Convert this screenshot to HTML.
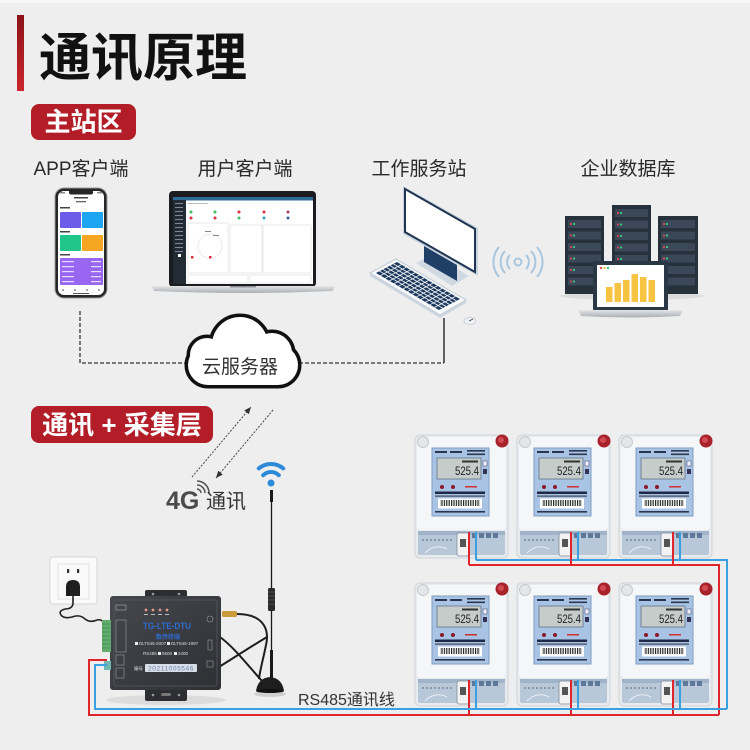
<!DOCTYPE html>
<html><head><meta charset="utf-8">
<style>
html,body{margin:0;padding:0;background:#eeeeee;}
svg{display:block}
text{font-family:"Liberation Sans","Noto Sans CJK SC",sans-serif;}
</style></head><body>
<svg width="750" height="750" viewBox="0 0 750 750" xmlns="http://www.w3.org/2000/svg">
<defs>
 <linearGradient id="rb" x1="0" y1="0" x2="0" y2="1"><stop offset="0" stop-color="#8a1216"/><stop offset="1" stop-color="#cc262c"/></linearGradient>
 <linearGradient id="silver" x1="0" y1="0" x2="0" y2="1"><stop offset="0" stop-color="#e4e6e8"/><stop offset="1" stop-color="#a9adb2"/></linearGradient>
 <linearGradient id="dev" x1="0" y1="0" x2="1" y2="1"><stop offset="0" stop-color="#45484d"/><stop offset="1" stop-color="#2e3034"/></linearGradient>
 <pattern id="bc" width="2.4" height="10" patternUnits="userSpaceOnUse"><rect width="1.2" height="10" fill="#222"/></pattern>
 <marker id="ah" markerWidth="8" markerHeight="8" refX="7" refY="4" orient="auto" markerUnits="userSpaceOnUse"><path d="M0 1 L7 4 L0 7 Z" fill="#333"/></marker>
</defs>
<rect width="750" height="750" fill="#eeeeee"/>
<rect x="0" y="0" width="750" height="3" fill="#f7f7f7"/>

<!-- Title -->
<rect x="17" y="15" width="7" height="76" fill="url(#rb)"/>
<text x="39" y="76" font-size="52" font-weight="700" fill="#111">通讯原理</text>

<!-- badge 1 -->
<rect x="31" y="104" width="105" height="36" rx="8" fill="#b21d27"/>
<text x="83.5" y="131" font-size="26" font-weight="700" fill="#fff" text-anchor="middle">主站区</text>

<!-- labels -->
<g font-size="19" fill="#2a2a2a" text-anchor="middle">
<text x="81" y="175">APP客户端</text>
<text x="245" y="175">用户客户端</text>
<text x="419" y="175">工作服务站</text>
<text x="628" y="175">企业数据库</text>
</g>

<!-- Phone -->
<rect x="55" y="188" width="52" height="110" rx="9" fill="#262626" stroke="#9a9a9a" stroke-width="1"/>
<rect x="58" y="191" width="46" height="104" rx="6" fill="#fff"/>
<rect x="69" y="189.5" width="24" height="5" rx="2" fill="#262626"/>
<rect x="60" y="192" width="5" height="1.5" fill="#888"/><rect x="97" y="192" width="5" height="1.5" fill="#888"/>
<rect x="74" y="197" width="14" height="1.5" fill="#444"/><rect x="76" y="201" width="10" height="1.3" fill="#666"/>
<rect x="60" y="207" width="10" height="1.5" fill="#444"/>
<rect x="60" y="212" width="21" height="16" rx="1" fill="#6c5ce7"/>
<rect x="82" y="212" width="21" height="16" rx="1" fill="#1ea5f2"/>
<rect x="60" y="231" width="10" height="1.5" fill="#444"/>
<rect x="60" y="235" width="21" height="16" rx="1" fill="#20c58a"/>
<rect x="82" y="235" width="21" height="16" rx="1" fill="#f6a623"/>
<rect x="60" y="254" width="10" height="1.5" fill="#444"/>
<rect x="60" y="258" width="43" height="27" rx="1" fill="#9866f0"/>
<g fill="#e8dcff"><rect x="62" y="261" width="12" height="1.2"/><rect x="91" y="261" width="10" height="1.2"/><rect x="62" y="266" width="12" height="1.2"/><rect x="91" y="266" width="10" height="1.2"/><rect x="62" y="271" width="12" height="1.2"/><rect x="91" y="271" width="10" height="1.2"/><rect x="62" y="276" width="12" height="1.2"/><rect x="91" y="276" width="10" height="1.2"/><rect x="62" y="281" width="12" height="1.2"/><rect x="91" y="281" width="10" height="1.2"/></g>
<g fill="#aaa"><rect x="62" y="289" width="2" height="2"/><rect x="74" y="289" width="2" height="2"/><rect x="86" y="289" width="2" height="2"/><rect x="98" y="289" width="2" height="2"/></g>
<rect x="73" y="293" width="16" height="1" fill="#555"/>

<!-- Laptop -->
<rect x="169" y="191" width="147" height="96" rx="4" fill="#1a1c1f"/>
<rect x="173" y="197" width="140" height="87" fill="#fff"/>
<rect x="173" y="197" width="140" height="3.5" fill="#2e6a98"/>
<rect x="173" y="200" width="13" height="84" fill="#232b34"/>
<g fill="#7d8996"><rect x="175" y="203" width="8" height="1"/><rect x="175" y="207" width="8" height="1"/><rect x="175" y="211" width="8" height="1"/><rect x="175" y="215" width="8" height="1"/><rect x="175" y="219" width="8" height="1"/><rect x="175" y="223" width="8" height="1"/><rect x="175" y="227" width="8" height="1"/><rect x="175" y="231" width="8" height="1"/><rect x="175" y="235" width="8" height="1"/><rect x="175" y="239" width="8" height="1"/><rect x="175" y="243" width="8" height="1"/><rect x="175" y="247" width="8" height="1"/><rect x="175" y="251" width="8" height="1"/></g>
<rect x="178" y="254" width="3" height="3" fill="#fff"/>
<rect x="188" y="203" width="20" height="1" fill="#bbb"/>
<g>
<circle cx="191" cy="212" r="1.5" fill="#3cc060"/><circle cx="215" cy="212" r="1.5" fill="#3cc060"/><circle cx="239" cy="212" r="1.5" fill="#d83040"/><circle cx="264" cy="212" r="1.5" fill="#d83040"/><circle cx="288" cy="212" r="1.5" fill="#a04070"/>
<circle cx="191" cy="218" r="1.5" fill="#d83040"/><circle cx="215" cy="218" r="1.5" fill="#d83040"/><circle cx="239" cy="218" r="1.5" fill="#3cc060"/><circle cx="264" cy="218" r="1.5" fill="#30a0c0"/><circle cx="288" cy="218" r="1.5" fill="#3060a0"/>
</g>
<g fill="none" stroke="#e2e2e2" stroke-width="0.7">
<rect x="188" y="223" width="40" height="50"/><rect x="230" y="225" width="32" height="48"/><rect x="263" y="225" width="48" height="48"/>
<rect x="188" y="275" width="60" height="8"/><rect x="250" y="275" width="61" height="8"/>
<circle cx="210" cy="246" r="12"/>
</g>
<rect x="191" y="256" width="2.5" height="2.5" fill="#d83040"/><rect x="209" y="256" width="2.5" height="2.5" fill="#d83040"/>
<rect x="205" y="231" width="6" height="1" fill="#888"/><rect x="213" y="235" width="6" height="1" fill="#888"/>
<path d="M152 286 H335 L333 291 Q243 295 154 291 Z" fill="url(#silver)"/>
<rect x="230" y="286" width="26" height="1.5" fill="#8d9196"/>

<!-- Computer -->
<polygon points="416,263 433,254 469,276 452,286" fill="#d0d9e2"/>
<polygon points="424,246 457,265 457,281 424,262" fill="#1f3f66"/>
<polygon points="403,186 478,228 478,276 403,234" fill="#c8d3de"/>
<polygon points="405,189 475,229 475,272 405,232" fill="#fff" stroke="#1f3552" stroke-width="2"/>
<polygon points="370,273 440,315 466,300 466,303 440,318 370,276" fill="#cdd6df"/>
<polygon points="370,273 396,259 466,300 440,315" fill="#f7f9fb" stroke="#c5d0da" stroke-width="1.2"/>
<polygon points="376,273 397,262 460,299 439,310" fill="#1d3a5e"/>
<g stroke="#f7f9fb" stroke-width="0.8">
<line x1="379.6" y1="271.1" x2="442.6" y2="308.1"/><line x1="382.9" y1="269.4" x2="445.9" y2="306.4"/><line x1="386.5" y1="267.5" x2="449.5" y2="304.5"/><line x1="390.1" y1="265.6" x2="453.1" y2="302.6"/><line x1="393.4" y1="263.9" x2="456.4" y2="300.9"/>
<line x1="380.5" y1="275.6" x2="401.5" y2="264.6"/><line x1="385" y1="278.3" x2="406" y2="267.3"/><line x1="389.5" y1="280.9" x2="410.5" y2="269.9"/><line x1="394" y1="283.6" x2="415" y2="272.6"/><line x1="398.5" y1="286.2" x2="419.5" y2="275.2"/><line x1="403" y1="288.9" x2="424" y2="277.9"/><line x1="407.5" y1="291.5" x2="428.5" y2="280.5"/><line x1="412" y1="294.1" x2="433" y2="283.1"/><line x1="416.5" y1="296.8" x2="437.5" y2="285.8"/><line x1="421" y1="299.4" x2="442" y2="288.4"/><line x1="425.5" y1="302.1" x2="446.5" y2="291.1"/><line x1="430" y1="304.7" x2="451" y2="293.7"/><line x1="434.5" y1="307.4" x2="455.5" y2="296.4"/>
</g>
<ellipse cx="470" cy="321" rx="6" ry="3.5" fill="#eef1f4" stroke="#c5cdd5" stroke-width="0.8"/>
<line x1="469" y1="321" x2="473" y2="319" stroke="#445" stroke-width="0.8"/>

<!-- wifi waves -->
<g fill="none" stroke="#a9c6df" stroke-width="2">
<circle cx="518" cy="262" r="3.5"/>
<path d="M510 255 A10 10 0 0 0 510 269"/><path d="M526 255 A10 10 0 0 1 526 269"/>
<path d="M505 251 A16 16 0 0 0 505 273"/><path d="M531 251 A16 16 0 0 1 531 273"/>
<path d="M499 247 A23 23 0 0 0 499 277"/><path d="M537 247 A23 23 0 0 1 537 277"/>
</g>

<!-- Servers -->
<ellipse cx="632" cy="296" rx="72" ry="4" fill="#dcdcdc"/>
<g>
<rect x="565" y="216" width="39" height="78" fill="#26313b"/>
<rect x="612" y="205" width="39" height="89" fill="#26313b"/>
<rect x="658" y="216" width="40" height="78" fill="#26313b"/>
<g fill="#3a4857">
<rect x="568" y="220" width="33" height="8"/><rect x="568" y="231.5" width="33" height="8"/><rect x="568" y="243" width="33" height="8"/><rect x="568" y="254.5" width="33" height="8"/><rect x="568" y="266" width="33" height="8"/><rect x="568" y="277.5" width="33" height="8"/>
<rect x="615" y="209" width="33" height="8"/><rect x="615" y="220.5" width="33" height="8"/><rect x="615" y="232" width="33" height="8"/><rect x="615" y="243.5" width="33" height="8"/><rect x="615" y="255" width="33" height="8"/>
<rect x="661" y="220" width="34" height="8"/><rect x="661" y="231.5" width="34" height="8"/><rect x="661" y="243" width="34" height="8"/><rect x="661" y="254.5" width="34" height="8"/><rect x="661" y="266" width="34" height="8"/><rect x="661" y="277.5" width="34" height="8"/>
</g>
<g fill="#e04858">
<circle cx="571" cy="224" r="1.1"/><circle cx="571" cy="235.5" r="1.1"/><circle cx="571" cy="247" r="1.1"/><circle cx="571" cy="258.5" r="1.1"/><circle cx="571" cy="270" r="1.1"/><circle cx="571" cy="281.5" r="1.1"/>
<circle cx="618" cy="213" r="1.1"/><circle cx="618" cy="224.5" r="1.1"/><circle cx="618" cy="236" r="1.1"/><circle cx="618" cy="247.5" r="1.1"/><circle cx="618" cy="259" r="1.1"/>
<circle cx="664" cy="224" r="1.1"/><circle cx="664" cy="235.5" r="1.1"/><circle cx="664" cy="247" r="1.1"/><circle cx="664" cy="258.5" r="1.1"/><circle cx="664" cy="270" r="1.1"/><circle cx="664" cy="281.5" r="1.1"/>
</g>
<g fill="#38d080">
<circle cx="574" cy="224" r="1.1"/><circle cx="574" cy="235.5" r="1.1"/><circle cx="574" cy="247" r="1.1"/><circle cx="574" cy="258.5" r="1.1"/><circle cx="574" cy="270" r="1.1"/><circle cx="574" cy="281.5" r="1.1"/>
<circle cx="621" cy="213" r="1.1"/><circle cx="621" cy="224.5" r="1.1"/><circle cx="621" cy="236" r="1.1"/><circle cx="621" cy="247.5" r="1.1"/><circle cx="621" cy="259" r="1.1"/>
<circle cx="667" cy="224" r="1.1"/><circle cx="667" cy="235.5" r="1.1"/><circle cx="667" cy="247" r="1.1"/><circle cx="667" cy="258.5" r="1.1"/><circle cx="667" cy="270" r="1.1"/><circle cx="667" cy="281.5" r="1.1"/>
</g>
</g>
<rect x="593" y="261" width="75" height="50" rx="2" fill="#2a3744"/>
<rect x="597" y="265" width="67" height="42" fill="#fff"/>
<circle cx="601" cy="268" r="1.2" fill="#e04858"/><circle cx="604.5" cy="268" r="1.2" fill="#f0c040"/><circle cx="608" cy="268" r="1.2" fill="#38d080"/>
<g fill="#f6c343">
<rect x="606" y="287" width="6.5" height="15"/><rect x="614.5" y="283" width="6.5" height="19"/><rect x="623" y="280" width="6.5" height="22"/><rect x="631.5" y="274" width="6.5" height="28"/><rect x="640" y="277" width="6.5" height="25"/><rect x="648.5" y="280" width="6.5" height="22"/>
</g>
<path d="M578 310 H683 L680 316 Q630 319 581 316 Z" fill="url(#silver)"/>

<!-- connectors to cloud -->
<path d="M80 311 V363 H187" stroke="#333" stroke-width="1.3" stroke-dasharray="4 2" fill="none"/>
<path d="M299 363 H444" stroke="#333" stroke-width="1.3" stroke-dasharray="4 2" fill="none"/>
<line x1="444" y1="318" x2="444" y2="363" stroke="#333" stroke-width="1.5"/>

<!-- Cloud -->
<g fill="#111">
<rect x="188" y="345" width="110" height="40" rx="20" stroke="#111" stroke-width="7"/>
<circle cx="240" cy="345" r="28" stroke="#111" stroke-width="7"/>
<circle cx="207" cy="355" r="17" stroke="#111" stroke-width="7"/>
<circle cx="272" cy="353" r="20" stroke="#111" stroke-width="7"/>
</g>
<g fill="#fff">
<rect x="188" y="345" width="110" height="40" rx="20"/>
<circle cx="240" cy="345" r="28"/>
<circle cx="207" cy="355" r="17"/>
<circle cx="272" cy="353" r="20"/>
</g>
<text x="240" y="373" font-size="19" fill="#333" text-anchor="middle">云服务器</text>

<!-- badge 2 -->
<rect x="31" y="406" width="182" height="37" rx="8" fill="#b21d27"/>
<text x="122" y="434" font-size="26" font-weight="700" fill="#fff" text-anchor="middle">通讯 + 采集层</text>

<!-- arrows -->
<line x1="192" y1="477" x2="251" y2="407" stroke="#444" stroke-width="1" stroke-dasharray="2 1.5" marker-end="url(#ah)"/>
<line x1="273" y1="410" x2="216" y2="478" stroke="#444" stroke-width="1" stroke-dasharray="2 1.5" marker-end="url(#ah)"/>

<!-- 4G -->
<text x="166" y="509" font-size="25" font-weight="700" fill="#4a4a4a">4G</text>
<g fill="none" stroke="#555" stroke-width="1.6">
<path d="M197 489 A4 4 0 0 1 201 493"/><path d="M197 485 A8 8 0 0 1 205 493"/><path d="M197 481 A12 12 0 0 1 209 493"/>
</g>
<text x="206" y="508" font-size="20" fill="#333">通讯</text>

<!-- wifi icon -->
<g fill="none" stroke="#2d8ad8" stroke-width="4" stroke-linecap="round">
<path d="M258.8 468.4 A19 19 0 0 1 283.2 468.4"/>
<path d="M263.2 475.2 A11 11 0 0 1 278.8 475.2"/>
</g>
<circle cx="271" cy="483" r="3.5" fill="#2d8ad8"/>

<!-- antenna -->
<line x1="271.5" y1="490" x2="271.5" y2="680" stroke="#1a1a1a" stroke-width="1.3"/>
<rect x="270" y="490" width="3" height="12" fill="#1a1a1a"/>
<rect x="268" y="588" width="7" height="23" rx="1.5" fill="#2a2a2a"/>
<g stroke="#666" stroke-width="0.6"><line x1="268" y1="592" x2="275" y2="592"/><line x1="268" y1="596" x2="275" y2="596"/><line x1="268" y1="600" x2="275" y2="600"/><line x1="268" y1="604" x2="275" y2="604"/></g>
<rect x="270" y="650" width="3" height="30" fill="#1a1a1a"/>
<ellipse cx="270" cy="694" rx="16" ry="3" fill="#cfcfcf"/>
<path d="M256 691 Q258 678 270 677 Q282 678 284 691 Z" fill="#1e1e1e"/>
<ellipse cx="270" cy="691" rx="14" ry="2" fill="#111"/>

<!-- antenna cables -->
<g fill="none" stroke="#1e1e1e" stroke-width="2">
<path d="M237 614 C262 614 270 628 266 645 C263 660 260 670 259 679"/>
<path d="M220 637 C235 648 250 668 262 681"/>
<path d="M219 667 C235 657 252 646 267 637"/>
</g>

<!-- outlet -->
<rect x="50" y="557" width="47" height="47" rx="3" fill="#fafafa" stroke="#d6d6d6"/>
<rect x="58" y="564" width="31" height="35" fill="none" stroke="#e2e2e2"/>
<rect x="67" y="569" width="2.2" height="4" fill="#333"/><rect x="77" y="569" width="2.2" height="4" fill="#333"/>
<path d="M66 596 V587 Q66 580 73 580 Q80 580 80 587 V596 Z" fill="#1e1e1e"/>
<path d="M73 596 V604 Q72 609 65 609 Q58 611 61 615 Q64 619 72 617 Q80 614 85 619 Q90 623 97 620 Q101 619 103 622" stroke="#222" stroke-width="1.6" fill="none"/>

<!-- gateway device -->
<ellipse cx="166" cy="700" rx="60" ry="5" fill="#dcdcdc"/>
<rect x="145" y="590" width="42" height="10" rx="2" fill="#2c2e31"/>
<circle cx="153" cy="594" r="1.3" fill="#999"/><circle cx="179" cy="594" r="1.3" fill="#999"/>
<rect x="145" y="685" width="42" height="16" rx="2" fill="#2c2e31"/>
<circle cx="153" cy="695" r="1.3" fill="#999"/><circle cx="179" cy="695" r="1.3" fill="#999"/><rect x="161" y="693" width="10" height="3" rx="1.5" fill="#777"/>
<rect x="110" y="596" width="111" height="94" rx="3" fill="url(#dev)"/>
<rect x="114" y="600" width="103" height="86" rx="2" fill="none" stroke="#55585d" stroke-width="0.8"/>
<rect x="116" y="605" width="10" height="5" fill="none" stroke="#aaa" stroke-width="0.6"/>
<g fill="#e89a88"><circle cx="146" cy="610" r="1.4"/><circle cx="153" cy="610" r="1.4"/><circle cx="160" cy="610" r="1.4"/><circle cx="167" cy="610" r="1.4"/></g>
<g fill="#bbb"><rect x="144" y="614" width="4" height="1"/><rect x="151" y="614" width="4" height="1"/><rect x="158" y="614" width="4" height="1"/><rect x="165" y="614" width="4" height="1"/></g>
<text x="167" y="629" font-size="9" font-weight="700" fill="#2f6bd0" text-anchor="middle" textLength="48" lengthAdjust="spacingAndGlyphs">TG-LTE-DTU</text>
<text x="168" y="639" font-size="6" font-weight="700" fill="#2f6bd0" text-anchor="middle">数传终端</text>
<g font-size="4.5" fill="#ddd">
<rect x="135" y="642" width="3" height="3" fill="#eee"/><text x="139" y="645">DLT645-2007</text>
<rect x="167" y="642" width="3" height="3" fill="#eee"/><text x="171" y="645">DLT645-1997</text>
<text x="143" y="655">RS485</text><rect x="158" y="652" width="3" height="3" fill="#eee"/><text x="162" y="655">9600</text><rect x="174" y="652" width="3" height="3" fill="#eee"/><text x="178" y="655">2400</text>
<text x="134" y="670">编号</text>
</g>
<rect x="145" y="664" width="52" height="8" rx="1" fill="#d8dee8"/>
<text x="171" y="670.5" font-size="6.5" fill="#6c86ad" text-anchor="middle" letter-spacing="0.6">20211005546</text>
<g fill="none" stroke="#999" stroke-width="0.6">
<rect x="116" y="620" width="10" height="32"/><rect x="116" y="655" width="8" height="10"/><rect x="116" y="668" width="8" height="10"/>
<circle cx="210" cy="619" r="3"/><rect x="208" y="640" width="4" height="10"/><rect x="207" y="661" width="6" height="6"/>
</g>
<rect x="222" y="611" width="15" height="6" rx="1.5" fill="#c89a3a"/>
<rect x="102" y="620" width="9" height="32" fill="#5fae6e"/>
<g stroke="#3f7d4c" stroke-width="0.6"><line x1="102" y1="624" x2="111" y2="624"/><line x1="102" y1="628" x2="111" y2="628"/><line x1="102" y1="632" x2="111" y2="632"/><line x1="102" y1="636" x2="111" y2="636"/><line x1="102" y1="640" x2="111" y2="640"/><line x1="102" y1="644" x2="111" y2="644"/><line x1="102" y1="648" x2="111" y2="648"/></g>
<rect x="104" y="661" width="7" height="9" fill="#6fb8b0"/>

<!-- meters -->
<g transform="translate(415,435)">
<rect x="0" y="0" width="93" height="123" rx="5" fill="#e8ebee" stroke="#cfd4d9"/>
<rect x="2" y="2" width="89" height="93" rx="4" fill="#f5f6f7"/>
<circle cx="8" cy="7" r="5.5" fill="#e4e6e8" stroke="#c5c9cd"/>
<circle cx="87" cy="6" r="6.5" fill="#a8222b"/><circle cx="86" cy="5" r="3" fill="#d24a52"/>
<rect x="17" y="13" width="57" height="68" fill="#a8c3e3" stroke="#809fc6"/>
<g fill="#2a3550"><rect x="20" y="16" width="12" height="2"/><rect x="35" y="16" width="12" height="2"/><rect x="52" y="15" width="18" height="1.6"/><rect x="52" y="18.5" width="18" height="1.6"/></g>
<rect x="22" y="23" width="44" height="21" fill="#c5ccca" stroke="#63748a" stroke-width="0.8"/>
<rect x="47" y="25.5" width="16" height="2" fill="#333"/>
<text x="64" y="40" font-size="12" fill="#222" text-anchor="end" textLength="24" lengthAdjust="spacingAndGlyphs">525.4</text>
<rect x="68" y="26" width="4" height="5" fill="#eef" stroke="#557" stroke-width="0.6"/><rect x="68" y="34" width="4" height="5" fill="#335"/>
<circle cx="27" cy="52" r="2" fill="#8a1a2a"/><circle cx="38" cy="52" r="2" fill="#8a1a2a"/>
<rect x="50" y="51" width="12" height="1.5" fill="#d03030"/>
<rect x="20" y="56.5" width="50" height="2.5" fill="#1e2a48"/>
<rect x="20" y="60.5" width="50" height="1.2" fill="#445"/>
<rect x="23" y="63.5" width="44" height="10" fill="#fff"/>
<rect x="25" y="65" width="40" height="6" fill="url(#bc)"/>
<rect x="20" y="76" width="50" height="1.6" fill="#2a3550"/>
<rect x="3" y="96" width="87" height="24" rx="2" fill="#b9c8d8"/>
<rect x="3" y="96" width="87" height="4" fill="#a0b3c8"/>
<g fill="#8797aa"><rect x="7" y="104" width="2" height="2"/><rect x="11" y="104" width="2" height="2"/><rect x="15" y="104" width="2" height="2"/><rect x="19" y="104" width="2" height="2"/><rect x="23" y="104" width="2" height="2"/><rect x="27" y="104" width="2" height="2"/><rect x="31" y="104" width="2" height="2"/><rect x="35" y="104" width="2" height="2"/></g>
<path d="M10 118 Q20 108 32 114" stroke="#e8eef5" stroke-width="1" fill="none"/>
<rect x="42" y="98" width="12" height="23" rx="2" fill="#f2f2f2" stroke="#7d8c9c" stroke-width="0.8"/>
<rect x="45" y="104" width="6" height="8" fill="#555"/>
<g fill="#5d7898"><rect x="57" y="98" width="5" height="5"/><rect x="64" y="98" width="5" height="5"/><rect x="71" y="98" width="5" height="5"/><rect x="78" y="98" width="5" height="5"/></g>
</g>
<g transform="translate(517,435)">
<rect x="0" y="0" width="93" height="123" rx="5" fill="#e8ebee" stroke="#cfd4d9"/>
<rect x="2" y="2" width="89" height="93" rx="4" fill="#f5f6f7"/>
<circle cx="8" cy="7" r="5.5" fill="#e4e6e8" stroke="#c5c9cd"/>
<circle cx="87" cy="6" r="6.5" fill="#a8222b"/><circle cx="86" cy="5" r="3" fill="#d24a52"/>
<rect x="17" y="13" width="57" height="68" fill="#a8c3e3" stroke="#809fc6"/>
<g fill="#2a3550"><rect x="20" y="16" width="12" height="2"/><rect x="35" y="16" width="12" height="2"/><rect x="52" y="15" width="18" height="1.6"/><rect x="52" y="18.5" width="18" height="1.6"/></g>
<rect x="22" y="23" width="44" height="21" fill="#c5ccca" stroke="#63748a" stroke-width="0.8"/>
<rect x="47" y="25.5" width="16" height="2" fill="#333"/>
<text x="64" y="40" font-size="12" fill="#222" text-anchor="end" textLength="24" lengthAdjust="spacingAndGlyphs">525.4</text>
<rect x="68" y="26" width="4" height="5" fill="#eef" stroke="#557" stroke-width="0.6"/><rect x="68" y="34" width="4" height="5" fill="#335"/>
<circle cx="27" cy="52" r="2" fill="#8a1a2a"/><circle cx="38" cy="52" r="2" fill="#8a1a2a"/>
<rect x="50" y="51" width="12" height="1.5" fill="#d03030"/>
<rect x="20" y="56.5" width="50" height="2.5" fill="#1e2a48"/>
<rect x="20" y="60.5" width="50" height="1.2" fill="#445"/>
<rect x="23" y="63.5" width="44" height="10" fill="#fff"/>
<rect x="25" y="65" width="40" height="6" fill="url(#bc)"/>
<rect x="20" y="76" width="50" height="1.6" fill="#2a3550"/>
<rect x="3" y="96" width="87" height="24" rx="2" fill="#b9c8d8"/>
<rect x="3" y="96" width="87" height="4" fill="#a0b3c8"/>
<g fill="#8797aa"><rect x="7" y="104" width="2" height="2"/><rect x="11" y="104" width="2" height="2"/><rect x="15" y="104" width="2" height="2"/><rect x="19" y="104" width="2" height="2"/><rect x="23" y="104" width="2" height="2"/><rect x="27" y="104" width="2" height="2"/><rect x="31" y="104" width="2" height="2"/><rect x="35" y="104" width="2" height="2"/></g>
<path d="M10 118 Q20 108 32 114" stroke="#e8eef5" stroke-width="1" fill="none"/>
<rect x="42" y="98" width="12" height="23" rx="2" fill="#f2f2f2" stroke="#7d8c9c" stroke-width="0.8"/>
<rect x="45" y="104" width="6" height="8" fill="#555"/>
<g fill="#5d7898"><rect x="57" y="98" width="5" height="5"/><rect x="64" y="98" width="5" height="5"/><rect x="71" y="98" width="5" height="5"/><rect x="78" y="98" width="5" height="5"/></g>
</g>
<g transform="translate(619,435)">
<rect x="0" y="0" width="93" height="123" rx="5" fill="#e8ebee" stroke="#cfd4d9"/>
<rect x="2" y="2" width="89" height="93" rx="4" fill="#f5f6f7"/>
<circle cx="8" cy="7" r="5.5" fill="#e4e6e8" stroke="#c5c9cd"/>
<circle cx="87" cy="6" r="6.5" fill="#a8222b"/><circle cx="86" cy="5" r="3" fill="#d24a52"/>
<rect x="17" y="13" width="57" height="68" fill="#a8c3e3" stroke="#809fc6"/>
<g fill="#2a3550"><rect x="20" y="16" width="12" height="2"/><rect x="35" y="16" width="12" height="2"/><rect x="52" y="15" width="18" height="1.6"/><rect x="52" y="18.5" width="18" height="1.6"/></g>
<rect x="22" y="23" width="44" height="21" fill="#c5ccca" stroke="#63748a" stroke-width="0.8"/>
<rect x="47" y="25.5" width="16" height="2" fill="#333"/>
<text x="64" y="40" font-size="12" fill="#222" text-anchor="end" textLength="24" lengthAdjust="spacingAndGlyphs">525.4</text>
<rect x="68" y="26" width="4" height="5" fill="#eef" stroke="#557" stroke-width="0.6"/><rect x="68" y="34" width="4" height="5" fill="#335"/>
<circle cx="27" cy="52" r="2" fill="#8a1a2a"/><circle cx="38" cy="52" r="2" fill="#8a1a2a"/>
<rect x="50" y="51" width="12" height="1.5" fill="#d03030"/>
<rect x="20" y="56.5" width="50" height="2.5" fill="#1e2a48"/>
<rect x="20" y="60.5" width="50" height="1.2" fill="#445"/>
<rect x="23" y="63.5" width="44" height="10" fill="#fff"/>
<rect x="25" y="65" width="40" height="6" fill="url(#bc)"/>
<rect x="20" y="76" width="50" height="1.6" fill="#2a3550"/>
<rect x="3" y="96" width="87" height="24" rx="2" fill="#b9c8d8"/>
<rect x="3" y="96" width="87" height="4" fill="#a0b3c8"/>
<g fill="#8797aa"><rect x="7" y="104" width="2" height="2"/><rect x="11" y="104" width="2" height="2"/><rect x="15" y="104" width="2" height="2"/><rect x="19" y="104" width="2" height="2"/><rect x="23" y="104" width="2" height="2"/><rect x="27" y="104" width="2" height="2"/><rect x="31" y="104" width="2" height="2"/><rect x="35" y="104" width="2" height="2"/></g>
<path d="M10 118 Q20 108 32 114" stroke="#e8eef5" stroke-width="1" fill="none"/>
<rect x="42" y="98" width="12" height="23" rx="2" fill="#f2f2f2" stroke="#7d8c9c" stroke-width="0.8"/>
<rect x="45" y="104" width="6" height="8" fill="#555"/>
<g fill="#5d7898"><rect x="57" y="98" width="5" height="5"/><rect x="64" y="98" width="5" height="5"/><rect x="71" y="98" width="5" height="5"/><rect x="78" y="98" width="5" height="5"/></g>
</g>
<g transform="translate(415,583)">
<rect x="0" y="0" width="93" height="123" rx="5" fill="#e8ebee" stroke="#cfd4d9"/>
<rect x="2" y="2" width="89" height="93" rx="4" fill="#f5f6f7"/>
<circle cx="8" cy="7" r="5.5" fill="#e4e6e8" stroke="#c5c9cd"/>
<circle cx="87" cy="6" r="6.5" fill="#a8222b"/><circle cx="86" cy="5" r="3" fill="#d24a52"/>
<rect x="17" y="13" width="57" height="68" fill="#a8c3e3" stroke="#809fc6"/>
<g fill="#2a3550"><rect x="20" y="16" width="12" height="2"/><rect x="35" y="16" width="12" height="2"/><rect x="52" y="15" width="18" height="1.6"/><rect x="52" y="18.5" width="18" height="1.6"/></g>
<rect x="22" y="23" width="44" height="21" fill="#c5ccca" stroke="#63748a" stroke-width="0.8"/>
<rect x="47" y="25.5" width="16" height="2" fill="#333"/>
<text x="64" y="40" font-size="12" fill="#222" text-anchor="end" textLength="24" lengthAdjust="spacingAndGlyphs">525.4</text>
<rect x="68" y="26" width="4" height="5" fill="#eef" stroke="#557" stroke-width="0.6"/><rect x="68" y="34" width="4" height="5" fill="#335"/>
<circle cx="27" cy="52" r="2" fill="#8a1a2a"/><circle cx="38" cy="52" r="2" fill="#8a1a2a"/>
<rect x="50" y="51" width="12" height="1.5" fill="#d03030"/>
<rect x="20" y="56.5" width="50" height="2.5" fill="#1e2a48"/>
<rect x="20" y="60.5" width="50" height="1.2" fill="#445"/>
<rect x="23" y="63.5" width="44" height="10" fill="#fff"/>
<rect x="25" y="65" width="40" height="6" fill="url(#bc)"/>
<rect x="20" y="76" width="50" height="1.6" fill="#2a3550"/>
<rect x="3" y="96" width="87" height="24" rx="2" fill="#b9c8d8"/>
<rect x="3" y="96" width="87" height="4" fill="#a0b3c8"/>
<g fill="#8797aa"><rect x="7" y="104" width="2" height="2"/><rect x="11" y="104" width="2" height="2"/><rect x="15" y="104" width="2" height="2"/><rect x="19" y="104" width="2" height="2"/><rect x="23" y="104" width="2" height="2"/><rect x="27" y="104" width="2" height="2"/><rect x="31" y="104" width="2" height="2"/><rect x="35" y="104" width="2" height="2"/></g>
<path d="M10 118 Q20 108 32 114" stroke="#e8eef5" stroke-width="1" fill="none"/>
<rect x="42" y="98" width="12" height="23" rx="2" fill="#f2f2f2" stroke="#7d8c9c" stroke-width="0.8"/>
<rect x="45" y="104" width="6" height="8" fill="#555"/>
<g fill="#5d7898"><rect x="57" y="98" width="5" height="5"/><rect x="64" y="98" width="5" height="5"/><rect x="71" y="98" width="5" height="5"/><rect x="78" y="98" width="5" height="5"/></g>
</g>
<g transform="translate(517,583)">
<rect x="0" y="0" width="93" height="123" rx="5" fill="#e8ebee" stroke="#cfd4d9"/>
<rect x="2" y="2" width="89" height="93" rx="4" fill="#f5f6f7"/>
<circle cx="8" cy="7" r="5.5" fill="#e4e6e8" stroke="#c5c9cd"/>
<circle cx="87" cy="6" r="6.5" fill="#a8222b"/><circle cx="86" cy="5" r="3" fill="#d24a52"/>
<rect x="17" y="13" width="57" height="68" fill="#a8c3e3" stroke="#809fc6"/>
<g fill="#2a3550"><rect x="20" y="16" width="12" height="2"/><rect x="35" y="16" width="12" height="2"/><rect x="52" y="15" width="18" height="1.6"/><rect x="52" y="18.5" width="18" height="1.6"/></g>
<rect x="22" y="23" width="44" height="21" fill="#c5ccca" stroke="#63748a" stroke-width="0.8"/>
<rect x="47" y="25.5" width="16" height="2" fill="#333"/>
<text x="64" y="40" font-size="12" fill="#222" text-anchor="end" textLength="24" lengthAdjust="spacingAndGlyphs">525.4</text>
<rect x="68" y="26" width="4" height="5" fill="#eef" stroke="#557" stroke-width="0.6"/><rect x="68" y="34" width="4" height="5" fill="#335"/>
<circle cx="27" cy="52" r="2" fill="#8a1a2a"/><circle cx="38" cy="52" r="2" fill="#8a1a2a"/>
<rect x="50" y="51" width="12" height="1.5" fill="#d03030"/>
<rect x="20" y="56.5" width="50" height="2.5" fill="#1e2a48"/>
<rect x="20" y="60.5" width="50" height="1.2" fill="#445"/>
<rect x="23" y="63.5" width="44" height="10" fill="#fff"/>
<rect x="25" y="65" width="40" height="6" fill="url(#bc)"/>
<rect x="20" y="76" width="50" height="1.6" fill="#2a3550"/>
<rect x="3" y="96" width="87" height="24" rx="2" fill="#b9c8d8"/>
<rect x="3" y="96" width="87" height="4" fill="#a0b3c8"/>
<g fill="#8797aa"><rect x="7" y="104" width="2" height="2"/><rect x="11" y="104" width="2" height="2"/><rect x="15" y="104" width="2" height="2"/><rect x="19" y="104" width="2" height="2"/><rect x="23" y="104" width="2" height="2"/><rect x="27" y="104" width="2" height="2"/><rect x="31" y="104" width="2" height="2"/><rect x="35" y="104" width="2" height="2"/></g>
<path d="M10 118 Q20 108 32 114" stroke="#e8eef5" stroke-width="1" fill="none"/>
<rect x="42" y="98" width="12" height="23" rx="2" fill="#f2f2f2" stroke="#7d8c9c" stroke-width="0.8"/>
<rect x="45" y="104" width="6" height="8" fill="#555"/>
<g fill="#5d7898"><rect x="57" y="98" width="5" height="5"/><rect x="64" y="98" width="5" height="5"/><rect x="71" y="98" width="5" height="5"/><rect x="78" y="98" width="5" height="5"/></g>
</g>
<g transform="translate(619,583)">
<rect x="0" y="0" width="93" height="123" rx="5" fill="#e8ebee" stroke="#cfd4d9"/>
<rect x="2" y="2" width="89" height="93" rx="4" fill="#f5f6f7"/>
<circle cx="8" cy="7" r="5.5" fill="#e4e6e8" stroke="#c5c9cd"/>
<circle cx="87" cy="6" r="6.5" fill="#a8222b"/><circle cx="86" cy="5" r="3" fill="#d24a52"/>
<rect x="17" y="13" width="57" height="68" fill="#a8c3e3" stroke="#809fc6"/>
<g fill="#2a3550"><rect x="20" y="16" width="12" height="2"/><rect x="35" y="16" width="12" height="2"/><rect x="52" y="15" width="18" height="1.6"/><rect x="52" y="18.5" width="18" height="1.6"/></g>
<rect x="22" y="23" width="44" height="21" fill="#c5ccca" stroke="#63748a" stroke-width="0.8"/>
<rect x="47" y="25.5" width="16" height="2" fill="#333"/>
<text x="64" y="40" font-size="12" fill="#222" text-anchor="end" textLength="24" lengthAdjust="spacingAndGlyphs">525.4</text>
<rect x="68" y="26" width="4" height="5" fill="#eef" stroke="#557" stroke-width="0.6"/><rect x="68" y="34" width="4" height="5" fill="#335"/>
<circle cx="27" cy="52" r="2" fill="#8a1a2a"/><circle cx="38" cy="52" r="2" fill="#8a1a2a"/>
<rect x="50" y="51" width="12" height="1.5" fill="#d03030"/>
<rect x="20" y="56.5" width="50" height="2.5" fill="#1e2a48"/>
<rect x="20" y="60.5" width="50" height="1.2" fill="#445"/>
<rect x="23" y="63.5" width="44" height="10" fill="#fff"/>
<rect x="25" y="65" width="40" height="6" fill="url(#bc)"/>
<rect x="20" y="76" width="50" height="1.6" fill="#2a3550"/>
<rect x="3" y="96" width="87" height="24" rx="2" fill="#b9c8d8"/>
<rect x="3" y="96" width="87" height="4" fill="#a0b3c8"/>
<g fill="#8797aa"><rect x="7" y="104" width="2" height="2"/><rect x="11" y="104" width="2" height="2"/><rect x="15" y="104" width="2" height="2"/><rect x="19" y="104" width="2" height="2"/><rect x="23" y="104" width="2" height="2"/><rect x="27" y="104" width="2" height="2"/><rect x="31" y="104" width="2" height="2"/><rect x="35" y="104" width="2" height="2"/></g>
<path d="M10 118 Q20 108 32 114" stroke="#e8eef5" stroke-width="1" fill="none"/>
<rect x="42" y="98" width="12" height="23" rx="2" fill="#f2f2f2" stroke="#7d8c9c" stroke-width="0.8"/>
<rect x="45" y="104" width="6" height="8" fill="#555"/>
<g fill="#5d7898"><rect x="57" y="98" width="5" height="5"/><rect x="64" y="98" width="5" height="5"/><rect x="71" y="98" width="5" height="5"/><rect x="78" y="98" width="5" height="5"/></g>
</g>

<!-- wires -->
<g fill="none" stroke-width="2">
<path d="M476 532 V560 M578 532 V560 M680 532 V560 M476 560 H727 V709" stroke="#3aa0e0"/>
<path d="M469 532 V565 M571 532 V565 M673 532 V565 M469 565 H719 V715" stroke="#e0242b"/>
<path d="M476 680 V709 M578 680 V709 M680 680 V709" stroke="#3aa0e0"/>
<path d="M469 680 V715 M571 680 V715 M673 680 V715" stroke="#e0242b"/>
<path d="M107 665 H95 V709 H727" stroke="#3aa0e0"/>
<path d="M107 660 H89 V715 H719" stroke="#e0242b"/>
</g>

<text x="298" y="705" font-size="16" fill="#333">RS485通讯线</text>
</svg>
</body></html>
